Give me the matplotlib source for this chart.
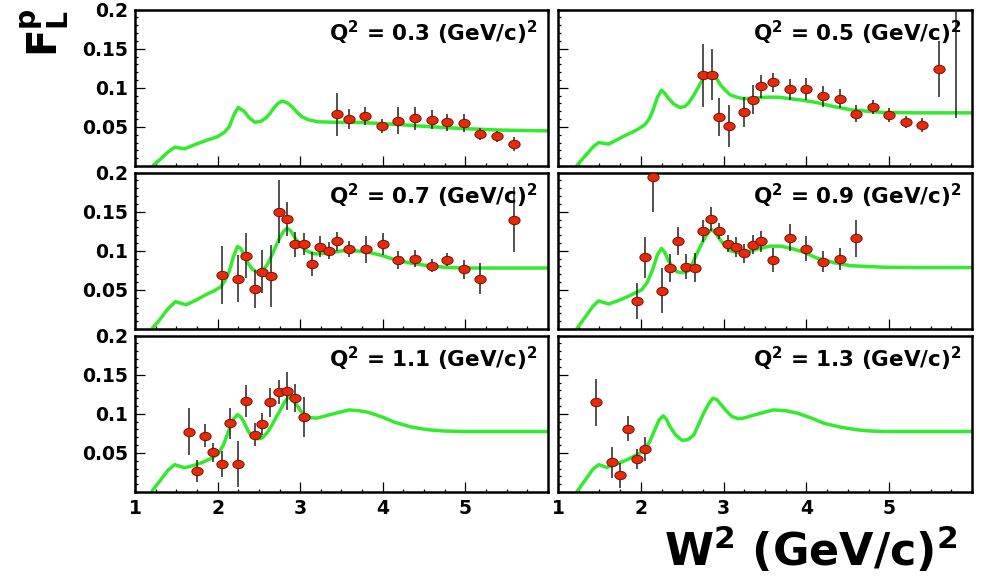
import matplotlib.pyplot as plt
from matplotlib.markers import MarkerStyle
from matplotlib.transforms import Affine2D
from matplotlib.ticker import MultipleLocator, FixedLocator, FuncFormatter

plt.rcParams['font.family'] = ['DejaVu Sans']
plt.rcParams['font.weight'] = 'bold'
plt.rcParams['mathtext.fontset'] = 'dejavusans'

# measured F_L^p points: W^2, F_L, error
w2_03 = [3.45, 3.59, 3.79, 3.99, 4.19, 4.39, 4.59, 4.78, 4.98, 5.18, 5.38, 5.59]
fl_03 = [0.066, 0.060, 0.064, 0.051, 0.058, 0.061, 0.059, 0.056, 0.055, 0.041, 0.038, 0.028]
er_03 = [0.027, 0.013, 0.011, 0.009, 0.017, 0.015, 0.012, 0.011, 0.011, 0.008, 0.007, 0.009]

w2_05 = [2.75, 2.86, 2.95, 3.06, 3.25, 3.35, 3.45, 3.60, 3.80, 4.00, 4.20, 4.40, 4.60,
         4.80, 5.00, 5.20, 5.40, 5.60, 5.81]
fl_05 = [0.116, 0.117, 0.063, 0.051, 0.069, 0.085, 0.102, 0.107, 0.098, 0.098, 0.089,
         0.086, 0.067, 0.075, 0.065, 0.056, 0.053, 0.124, 0.215]
er_05 = [0.040, 0.032, 0.024, 0.027, 0.019, 0.018, 0.015, 0.012, 0.013, 0.014, 0.013,
         0.012, 0.011, 0.009, 0.009, 0.0075, 0.009, 0.036, 0.154]

w2_07 = [2.05, 2.25, 2.34, 2.45, 2.54, 2.65, 2.74, 2.84, 2.94, 3.04, 3.14, 3.24, 3.35,
         3.45, 3.59, 3.80, 4.00, 4.19, 4.39, 4.59, 4.78, 4.98, 5.18, 5.59]
fl_07 = [0.069, 0.0645, 0.0936, 0.051, 0.0735, 0.068, 0.150, 0.141, 0.1085, 0.1085,
         0.083, 0.1055, 0.100, 0.112, 0.102, 0.102, 0.1085, 0.0885, 0.090, 0.081,
         0.0885, 0.0765, 0.0645, 0.140]
er_07 = [0.037, 0.030, 0.029, 0.024, 0.027, 0.040, 0.040, 0.022, 0.016, 0.014, 0.015,
         0.013, 0.011, 0.012, 0.010, 0.017, 0.014, 0.0115, 0.011, 0.0085, 0.0085,
         0.012, 0.020, 0.042]

w2_09 = [1.95, 2.05, 2.15, 2.25, 2.35, 2.45, 2.55, 2.65, 2.75, 2.85, 2.95, 3.05, 3.15,
         3.25, 3.35, 3.45, 3.60, 3.80, 4.00, 4.20, 4.40, 4.60]
fl_09 = [0.036, 0.0915, 0.194, 0.049, 0.078, 0.113, 0.0795, 0.0786, 0.125, 0.1405,
         0.125, 0.109, 0.105, 0.097, 0.1077, 0.112, 0.0885, 0.117, 0.1026, 0.0863,
         0.090, 0.116]
er_09 = [0.023, 0.026, 0.044, 0.029, 0.0185, 0.018, 0.016, 0.018, 0.014, 0.0155,
         0.010, 0.011, 0.0128, 0.012, 0.0124, 0.0137, 0.015, 0.0175, 0.016, 0.014,
         0.014, 0.0235]

w2_11 = [1.65, 1.75, 1.85, 1.95, 2.05, 2.15, 2.25, 2.34, 2.45, 2.54, 2.64, 2.74, 2.84,
         2.94, 3.04]
fl_11 = [0.077, 0.027, 0.072, 0.0506, 0.0357, 0.088, 0.036, 0.1166, 0.0732, 0.087,
         0.1145, 0.1277, 0.129, 0.120, 0.0957]
er_11 = [0.030, 0.0145, 0.0145, 0.0117, 0.017, 0.020, 0.029, 0.0206, 0.0145, 0.0145,
         0.0187, 0.0153, 0.024, 0.0177, 0.0255]

w2_13 = [1.46, 1.65, 1.75, 1.85, 1.95, 2.05]
fl_13 = [0.1145, 0.038, 0.0213, 0.081, 0.042, 0.0553]
er_13 = [0.030, 0.020, 0.0164, 0.016, 0.013, 0.015]

# model curves: W^2, F_L
mw_03 = [1.22, 1.30, 1.40, 1.48, 1.60, 1.74, 1.87, 2.00, 2.08, 2.14, 2.20, 2.25, 2.32,
         2.38, 2.45, 2.52, 2.58, 2.64, 2.68, 2.73, 2.78, 2.84, 2.90, 2.96, 3.02, 3.10,
         3.22, 3.40, 3.75, 4.20, 4.60, 4.95, 5.40, 5.96, 6.0]
mf_03 = [0.001, 0.008, 0.018, 0.024, 0.022, 0.028, 0.033, 0.0375, 0.043, 0.050, 0.066,
         0.075, 0.070, 0.062, 0.056, 0.057, 0.061, 0.068, 0.074, 0.080, 0.083, 0.081,
         0.076, 0.069, 0.063, 0.059, 0.0565, 0.056, 0.0556, 0.053, 0.050, 0.048,
         0.046, 0.045, 0.045]

mw_05 = [1.23, 1.32, 1.42, 1.49, 1.61, 1.72, 1.83, 1.95, 2.05, 2.10, 2.15, 2.20, 2.25,
         2.29, 2.33, 2.40, 2.47, 2.53, 2.58, 2.63, 2.68, 2.72, 2.76, 2.82, 2.88, 2.92,
         2.96, 3.02, 3.08, 3.16, 3.24, 3.38, 3.52, 3.66, 3.81, 3.96, 4.13, 4.33, 4.53,
         4.74, 4.94, 5.34, 6.0]
mf_05 = [0.001, 0.012, 0.024, 0.030, 0.028, 0.034, 0.040, 0.046, 0.053, 0.060, 0.072,
         0.088, 0.097, 0.093, 0.087, 0.079, 0.075, 0.076, 0.081, 0.089, 0.098, 0.106,
         0.113, 0.116, 0.116, 0.111, 0.104, 0.097, 0.091, 0.088, 0.086, 0.087, 0.088,
         0.088, 0.086, 0.084, 0.081, 0.076, 0.072, 0.070, 0.0685, 0.068, 0.068]

mw_07 = [1.21, 1.30, 1.40, 1.49, 1.62, 1.74, 1.86, 1.96, 2.04, 2.09, 2.14, 2.19, 2.24,
         2.28, 2.32, 2.37, 2.42, 2.48, 2.54, 2.60, 2.66, 2.71, 2.76, 2.80, 2.84, 2.89,
         2.94, 3.00, 3.06, 3.12, 3.18, 3.34, 3.51, 3.67, 3.83, 3.99, 4.15, 4.35, 4.55,
         4.75, 4.95, 5.35, 6.0]
mf_07 = [0.001, 0.012, 0.026, 0.035, 0.031, 0.037, 0.044, 0.049, 0.054, 0.062, 0.0735,
         0.092, 0.1055, 0.103, 0.095, 0.084, 0.0765, 0.073, 0.074, 0.082, 0.095,
         0.107, 0.118, 0.125, 0.129, 0.125, 0.116, 0.108, 0.101, 0.098, 0.096, 0.097,
         0.100, 0.100, 0.098, 0.094, 0.0885, 0.084, 0.081, 0.079, 0.078, 0.078, 0.078]

mw_09 = [1.23, 1.32, 1.42, 1.49, 1.61, 1.72, 1.83, 1.93, 2.01, 2.08, 2.15, 2.20, 2.25,
         2.29, 2.33, 2.38, 2.44, 2.50, 2.56, 2.62, 2.68, 2.73, 2.78, 2.82, 2.86, 2.91,
         2.96, 3.02, 3.08, 3.16, 3.24, 3.40, 3.56, 3.68, 3.81, 3.97, 4.13, 4.33, 4.53,
         4.74, 4.94, 5.34, 6.0]
mf_09 = [0.001, 0.014, 0.029, 0.036, 0.032, 0.036, 0.041, 0.046, 0.050, 0.060, 0.078,
         0.095, 0.103, 0.098, 0.088, 0.080, 0.073, 0.072, 0.0735, 0.083, 0.097, 0.108,
         0.118, 0.124, 0.127, 0.122, 0.114, 0.106, 0.100, 0.098, 0.097, 0.102, 0.106,
         0.106, 0.1034, 0.098, 0.0906, 0.085, 0.081, 0.080, 0.079, 0.0786, 0.0786]

mw_11 = [1.21, 1.30, 1.40, 1.48, 1.60, 1.71, 1.82, 1.92, 2.00, 2.07, 2.14, 2.19, 2.24,
         2.28, 2.32, 2.37, 2.42, 2.48, 2.54, 2.60, 2.66, 2.71, 2.76, 2.81, 2.86, 2.91,
         2.96, 3.01, 3.06, 3.13, 3.20, 3.40, 3.59, 3.71, 3.83, 3.99, 4.15, 4.35, 4.55,
         4.75, 4.95, 5.35, 6.0]
mf_11 = [0.002, 0.014, 0.028, 0.035, 0.031, 0.034, 0.038, 0.043, 0.048, 0.060, 0.080,
         0.093, 0.099, 0.096, 0.089, 0.078, 0.070, 0.068, 0.069, 0.076, 0.086, 0.096,
         0.105, 0.115, 0.122, 0.118, 0.111, 0.103, 0.0966, 0.095, 0.0945, 0.100,
         0.105, 0.104, 0.1017, 0.096, 0.089, 0.083, 0.0796, 0.078, 0.0774, 0.0774,
         0.0774]

mw_13 = [1.23, 1.32, 1.42, 1.49, 1.59, 1.71, 1.83, 1.94, 2.05, 2.11, 2.17, 2.22, 2.27,
         2.31, 2.35, 2.42, 2.50, 2.57, 2.64, 2.70, 2.76, 2.82, 2.87, 2.92, 2.96, 3.03,
         3.10, 3.17, 3.24, 3.42, 3.60, 3.75, 3.89, 4.05, 4.21, 4.41, 4.61, 4.78, 4.94,
         5.34, 6.0]
mf_13 = [0.001, 0.014, 0.029, 0.035, 0.0315, 0.036, 0.041, 0.047, 0.054, 0.065, 0.080,
         0.092, 0.0975, 0.093, 0.084, 0.073, 0.066, 0.067, 0.073, 0.087, 0.101, 0.113,
         0.120, 0.118, 0.1128, 0.104, 0.0966, 0.094, 0.0945, 0.100, 0.105, 0.104,
         0.1009, 0.095, 0.088, 0.083, 0.0796, 0.078, 0.0774, 0.0774, 0.0774]

q2_labels = ['0.3', '0.5', '0.7', '0.9', '1.1', '1.3']
points = [(w2_03, fl_03, er_03), (w2_05, fl_05, er_05), (w2_07, fl_07, er_07),
          (w2_09, fl_09, er_09), (w2_11, fl_11, er_11), (w2_13, fl_13, er_13)]
models = [(mw_03, mf_03), (mw_05, mf_05), (mw_07, mf_07),
          (mw_09, mf_09), (mw_11, mf_11), (mw_13, mf_13)]

fig = plt.figure(figsize=(9.84, 5.76), dpi=100)

lefts = [0.1372, 0.5671]
widths = [0.4197, 0.4207]
bottoms = [0.7118, 0.4288, 0.1458]
height = 0.2715

ellipse = MarkerStyle('o', transform=Affine2D().scale(1.35, 1.0))

for i in range(6):
    row, col = divmod(i, 2)
    ax = fig.add_axes([lefts[col], bottoms[row], widths[col], height])
    mw, mf = models[i]
    ax.plot(mw, mf, color='#33ea2e', lw=2.5, solid_capstyle='round',
            solid_joinstyle='round', zorder=2)
    w2, fl, er = points[i]
    ax.errorbar(w2, fl, yerr=er, fmt='none', ecolor='#222222', elinewidth=1.1,
                capsize=0, zorder=3)
    ax.plot(w2, fl, ls='none', marker=ellipse, markersize=6, color='#e82a0c',
            markeredgecolor='#7a1000', markeredgewidth=0.7, zorder=4)

    ax.set_xlim(1, 6)
    ax.set_ylim(0, 0.2)
    ax.xaxis.set_major_locator(FixedLocator([1, 2, 3, 4, 5]))
    ax.xaxis.set_minor_locator(MultipleLocator(0.25))
    ax.yaxis.set_major_locator(FixedLocator([0.05, 0.1, 0.15, 0.2]))
    ax.yaxis.set_minor_locator(MultipleLocator(0.01))
    ax.tick_params(which='both', direction='in', top=False, right=False,
                   width=0.9, labelsize=13.5, pad=5)
    ax.tick_params(which='major', length=7)
    ax.tick_params(which='minor', length=2.5)
    ax.yaxis.set_major_formatter(FuncFormatter(lambda v, p: '%g' % v))
    for s in ax.spines.values():
        s.set_linewidth(1.8)
    if col == 1:
        ax.set_yticklabels([])
    if row < 2:
        ax.set_xticklabels([])
    for lab in ax.get_xticklabels() + ax.get_yticklabels():
        lab.set_fontweight('bold')

    ax.text(0.975, 0.80, r'Q$^{\mathbf{2}}$ = %s (GeV/c)$^{\mathbf{2}}$' % q2_labels[i],
            transform=ax.transAxes, ha='right', va='baseline', fontsize=15.5,
            fontweight='bold')

fig.text(0.046, 0.944, r'$\mathbf{F^{p}_{L}}$', rotation=90, ha='center', va='center',
         fontsize=29)
fig.text(0.973, 0.018, r'W$^{\mathbf{2}}$ (GeV/c)$^{\mathbf{2}}$', ha='right',
         va='baseline', fontsize=32, fontweight='bold')

fig.savefig('out.png', dpi=100)
